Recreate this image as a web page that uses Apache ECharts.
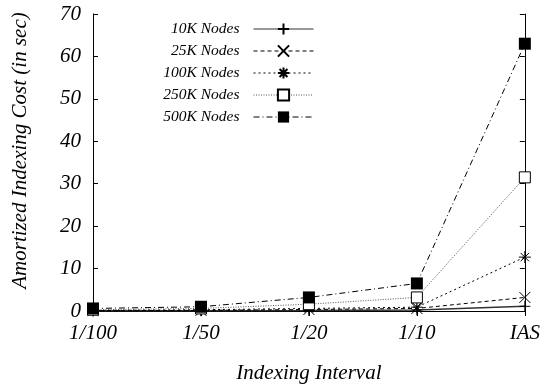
<!DOCTYPE html>
<html><head><meta charset="utf-8">
<script src="https://cdn.jsdelivr.net/npm/echarts@6/dist/echarts.min.js"></script>
<style>html,body{margin:0;padding:0;background:#fff}#c{width:543px;height:389px}</style>
</head><body><div id="c"></div>
<script>
var categories = ['1/100', '1/50', '1/20', '1/10', 'IAS'];
var yTicks = [0, 10, 20, 30, 40, 50, 60, 70];
var names = ['10K Nodes', '25K Nodes', '100K Nodes', '250K Nodes', '500K Nodes'];
var s10K = [0.03, 0.06, 0.12, 0.25, 1.1];
var s25K = [0.08, 0.15, 0.35, 0.6, 3.2];
var s100K = [0.15, 0.3, 0.6, 0.9, 12.7];
var s250K = [0.3, 0.6, 1.6, 3.2, 31.5];
var s500K = [0.6, 1.0, 3.2, 6.5, 63];

var FONT = 'Liberation Serif';
var plus = 'path://M5,0L5,10M0,5L10,5';
var cross = 'path://M0,0L10,10M0,10L10,0';
var star = 'path://M5,0L5,10M0,5L10,5M1.5,1.5L8.5,8.5M1.5,8.5L8.5,1.5';

function mk(name, data, symbol, size, lineStyle, itemStyle) {
  return {
    name: name, type: 'line', data: data, symbol: symbol, symbolSize: size,
    showSymbol: true, lineStyle: lineStyle, itemStyle: itemStyle,
    emphasis: {disabled: true}, animation: false
  };
}
var strokeOnly = {color: 'rgba(0,0,0,0)', borderColor: '#000', borderWidth: 1};

var chart = echarts.init(document.getElementById('c'));
chart.setOption({
  animation: false,
  grid: {left: 93, right: 17, top: 14, bottom: 72, containLabel: false},
  legend: {
    orient: 'vertical', align: 'right', right: 229, top: 21, padding: 0,
    itemWidth: 60, itemHeight: 14, itemGap: 6,
    lineStyle: {width: 1},
    textStyle: {fontFamily: FONT, fontStyle: 'italic', fontSize: 15.5, color: '#000', lineHeight: 14, padding: [0, 9, 0, 0]},
    data: names
  },
  xAxis: [{
    type: 'category', data: categories, boundaryGap: false,
    name: 'Indexing Interval', nameLocation: 'middle', nameGap: 52,
    nameTextStyle: {fontFamily: FONT, fontStyle: 'italic', fontSize: 21, color: '#000'},
    axisLine: {lineStyle: {color: '#000', width: 1}},
    axisTick: {inside: true, length: 5, alignWithLabel: true, lineStyle: {color: '#000'}},
    axisLabel: {fontFamily: FONT, fontStyle: 'italic', fontSize: 21, color: '#000', margin: 12},
    splitLine: {show: false}
  }, {
    type: 'category', data: categories, boundaryGap: false, position: 'top',
    axisLine: {lineStyle: {color: '#000', width: 1}},
    axisTick: {inside: true, length: 5, lineStyle: {color: '#000'}},
    axisLabel: {show: false}, splitLine: {show: false}
  }],
  yAxis: [{
    type: 'value', min: 0, max: 70, interval: 10,
    name: 'Amortized Indexing Cost (in sec)', nameLocation: 'middle', nameGap: 62,
    nameTextStyle: {fontFamily: FONT, fontStyle: 'italic', fontSize: 21, color: '#000', padding: [0, 0, 0, 24]},
    axisLine: {show: true, lineStyle: {color: '#000', width: 1}},
    axisTick: {show: true, inside: true, length: 5, lineStyle: {color: '#000'}},
    axisLabel: {fontFamily: FONT, fontStyle: 'italic', fontSize: 21, color: '#000', margin: 12,
      formatter: function (v) { return yTicks.indexOf(v) >= 0 ? String(v) : ''; }},
    splitLine: {show: false}
  }, {
    type: 'value', min: 0, max: 70, interval: 10, position: 'right',
    axisLine: {show: true, lineStyle: {color: '#000', width: 1}},
    axisTick: {show: true, inside: true, length: 5, lineStyle: {color: '#000'}},
    axisLabel: {show: false}, splitLine: {show: false}
  }],
  series: [
    mk(names[0], s10K, plus, 11, {color: '#333', width: 1.5, type: 'solid'}, strokeOnly),
    mk(names[1], s25K, cross, 11, {color: '#000', width: 1, type: [4, 3]}, strokeOnly),
    mk(names[2], s100K, star, 12, {color: '#000', width: 1, type: [2, 3]}, strokeOnly),
    mk(names[3], s250K, 'rect', 11, {color: '#555', width: 1, type: [1, 1.5]}, {color: '#fff', borderColor: '#000', borderWidth: 1}),
    mk(names[4], s500K, 'rect', 12, {color: '#000', width: 1, type: [6, 3, 1, 3]}, {color: '#000', borderColor: '#000', borderWidth: 0})
  ]
});
</script></body></html>
